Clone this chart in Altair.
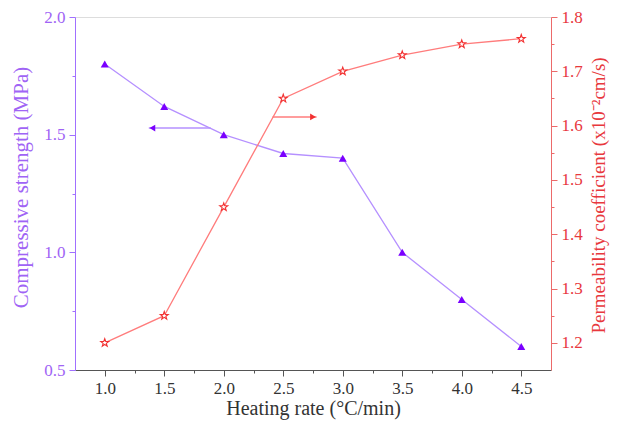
import altair as alt
import pandas as pd

# Data
heating_rate = [1.0, 1.5, 2.0, 2.5, 3.0, 3.5, 4.0, 4.5]
compressive = [1.80, 1.62, 1.50, 1.42, 1.40, 1.00, 0.80, 0.60]
permeability = [1.20, 1.25, 1.45, 1.65, 1.70, 1.73, 1.75, 1.76]

# Annotation arrows (data coordinates)
left_arrow_x = [1.89, 1.37]      # start, tip
left_arrow_y = [1.528]
right_arrow_x = [2.41, 2.78]     # start, tip
right_arrow_y = [1.616]

x_ticks = [1.0, 1.25, 1.5, 1.75, 2.0, 2.25, 2.5, 2.75, 3.0, 3.25, 3.5, 3.75, 4.0, 4.25, 4.5]
left_ticks = [0.5, 0.75, 1.0, 1.25, 1.5, 1.75, 2.0]
right_ticks = [1.2, 1.25, 1.3, 1.35, 1.4, 1.45, 1.5, 1.55, 1.6, 1.65, 1.7, 1.75, 1.8]

PURPLE_TXT = "#a064f5"
PURPLE_AX = "#a070ff"
PURPLE_MK = "#7a00ff"
PURPLE_LN = "#b590ff"
RED_TXT = "#e8383d"
RED_AX = "#ec6a6a"
RED_MK = "#f23030"
RED_LN = "#ff7c7c"
FONT = "Liberation Serif"

df = pd.DataFrame({"rate": heating_rate, "cs": compressive, "pc": permeability})
la = pd.DataFrame({"x0": [left_arrow_x[0]], "x1": [left_arrow_x[1]], "y": left_arrow_y,
                   "hx": [left_arrow_x[1] + 0.03]})
ra = pd.DataFrame({"x0": [right_arrow_x[0]], "x1": [right_arrow_x[1]], "y": right_arrow_y,
                   "hx": [right_arrow_x[1] - 0.03]})

xscale = alt.Scale(domain=[0.75, 4.75], nice=False, zero=False)
lscale = alt.Scale(domain=[0.5, 2.0], nice=False, zero=False)
rscale = alt.Scale(domain=[1.15, 1.8], nice=False, zero=False)

minor_half = "abs(datum.value*2 - round(datum.value*2)) > 0.01"
minor_tenth = "abs(datum.value*10 - round(datum.value*10)) > 0.01"

x_axis = alt.Axis(
    values=x_ticks, title="Heating rate (°C/min)",
    labelExpr=f"{minor_half} ? '' : format(datum.value, '.1f')",
    tickSize={"condition": {"test": minor_half, "value": 3}, "value": 6},
    domainColor="#555555", tickColor="#555555", labelColor="#333333", titleColor="#333333",
    labelFont=FONT, titleFont=FONT, labelFontSize=17, titleFontSize=20, titleFontWeight="normal",
    labelPadding=4, grid=False, labelOverlap=False, labelFlush=False,
    titleX=238, titleY=38, titleBaseline="middle", titleAlign="center",
)
l_axis = alt.Axis(
    values=left_ticks, title="Compressive strength (MPa)", orient="left",
    labelExpr=f"{minor_half} ? '' : format(datum.value, '.1f')",
    tickSize={"condition": {"test": minor_half, "value": 3}, "value": 6},
    domainColor=PURPLE_AX, tickColor=PURPLE_AX, labelColor=PURPLE_TXT, titleColor=PURPLE_TXT,
    labelFont=FONT, titleFont=FONT, labelFontSize=17, titleFontSize=21, titleFontWeight="normal",
    labelPadding=4, grid=False, labelOverlap=False, labelFlush=False,
    titleX=-54, titleY=170, titleAngle=-90, titleBaseline="middle", titleAlign="center",
)
r_axis = alt.Axis(
    values=right_ticks, title="Permeability coefficient (x10⁻²cm/s)", orient="right",
    labelExpr=f"{minor_tenth} ? '' : format(datum.value, '.1f')",
    tickSize={"condition": {"test": minor_tenth, "value": 3}, "value": 6},
    domainColor=RED_AX, tickColor=RED_AX, labelColor=RED_TXT, titleColor=RED_TXT,
    labelFont=FONT, titleFont=FONT, labelFontSize=17, titleFontSize=19, titleFontWeight="normal",
    labelPadding=4, grid=False, labelOverlap=False, labelFlush=False,
    titleX=47, titleY=178, titleAngle=-90, titleBaseline="middle", titleAlign="center",
)

X = lambda f: alt.X(f"{f}:Q", scale=xscale, axis=x_axis)

base = alt.Chart(df)

cs_line = base.mark_line(color=PURPLE_LN, strokeWidth=1.3).encode(
    x=X("rate"), y=alt.Y("cs:Q", scale=lscale, axis=l_axis))
cs_pts = base.mark_point(shape="triangle-up", filled=True, color=PURPLE_MK, size=65, opacity=1).encode(
    x=X("rate"), y=alt.Y("cs:Q", scale=lscale, axis=l_axis))
la_rule = alt.Chart(la).mark_rule(color=PURPLE_LN, strokeWidth=1.5).encode(
    x=X("x0"), x2="x1:Q", y=alt.Y("y:Q", scale=lscale, axis=l_axis))
la_head = alt.Chart(la).mark_point(shape="triangle-left", filled=True, color=PURPLE_MK, size=45, opacity=1).encode(
    x=X("hx"), y=alt.Y("y:Q", scale=lscale, axis=l_axis))

left = alt.layer(cs_line, cs_pts, la_rule, la_head)

star = ("M0,-1 L0.235,-0.324 L0.951,-0.309 L0.380,0.124 L0.588,0.809 L0,0.4 "
        "L-0.588,0.809 L-0.380,0.124 L-0.951,-0.309 L-0.235,-0.324 Z")

pc_line = base.mark_line(color=RED_LN, strokeWidth=1.3).encode(
    x=X("rate"), y=alt.Y("pc:Q", scale=rscale, axis=r_axis))
pc_pts = base.mark_point(shape=star, filled=True, fill="white", stroke=RED_MK, strokeWidth=1.1,
                         size=70, opacity=1).encode(
    x=X("rate"), y=alt.Y("pc:Q", scale=rscale, axis=r_axis))
ra_rule = alt.Chart(ra).mark_rule(color=RED_LN, strokeWidth=1.5).encode(
    x=X("x0"), x2="x1:Q", y=alt.Y("y:Q", scale=rscale, axis=r_axis))
ra_head = alt.Chart(ra).mark_point(shape="triangle-right", filled=True, color=RED_MK, size=45, opacity=1).encode(
    x=X("hx"), y=alt.Y("y:Q", scale=rscale, axis=r_axis))

right = alt.layer(pc_line, pc_pts, ra_rule, ra_head)

chart = alt.layer(left, right).resolve_scale(y="independent").properties(
    width=476, height=353,
    autosize=alt.AutoSizeParams(type="none"),
    padding={"left": 67, "top": 9, "right": 59, "bottom": 50},
).configure_view(stroke="#555555", strokeWidth=1).configure(background="white")

chart.save("out.html", embed_options={"renderer": "svg", "actions": False})
